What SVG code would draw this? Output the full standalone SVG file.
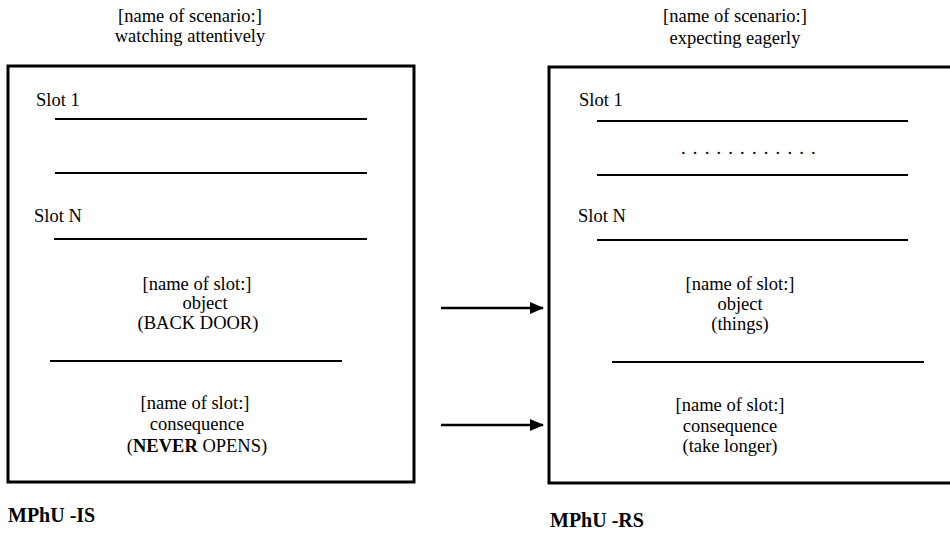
<svg xmlns="http://www.w3.org/2000/svg" width="950" height="535" viewBox="0 0 950 535">
  <style>
    text { font-family: "Liberation Serif", Tinos, "Times New Roman", Times, "Noto Serif", "DejaVu Serif", FreeSerif, serif; font-size: 18.5px; fill: #000; }
    .c { text-anchor: middle; }
    .lbl { font-weight: bold; font-size: 20px; }
    .frame { fill: none; stroke: #000; stroke-width: 3; }
    .rule { stroke: #000; stroke-width: 2; }
    .conn { stroke: #000; stroke-width: 2.5; fill: none; }
  </style>
  <defs>
    <marker id="head" viewBox="0 0 14 12" refX="13" refY="6" markerWidth="14" markerHeight="12" orient="auto" markerUnits="userSpaceOnUse">
      <path d="M0,0 L14,6 L0,12 z" fill="#000"/>
    </marker>
  </defs>
  <rect width="950" height="535" fill="#fff"/>

  <!-- scenario: watching attentively -->
  <g id="scenario-is">
    <text class="c" x="190" y="22">[name of scenario:]</text>
    <text class="c" x="190" y="42">watching attentively</text>
    <rect class="frame" x="8" y="66" width="406" height="416"/>
    <text x="36" y="106">Slot 1</text>
    <line class="rule" x1="55" y1="119" x2="367" y2="119"/>
    <line class="rule" x1="55" y1="173" x2="367" y2="173"/>
    <text x="34" y="222">Slot N</text>
    <line class="rule" x1="54" y1="239" x2="367" y2="239"/>
    <text class="c" x="197" y="290">[name of slot:]</text>
    <text class="c" x="205" y="309">object</text>
    <text class="c" x="198" y="329">(BACK DOOR)</text>
    <line class="rule" x1="50" y1="361" x2="342" y2="361"/>
    <text class="c" x="195" y="409">[name of slot:]</text>
    <text class="c" x="197" y="430">consequence</text>
    <text class="c" x="197" y="452">(<tspan font-weight="bold">NEVER</tspan> OPENS)</text>
    <text class="lbl" x="8" y="522">MPhU -IS</text>
  </g>

  <!-- scenario: expecting eagerly -->
  <g id="scenario-rs">
    <text class="c" x="735" y="22">[name of scenario:]</text>
    <text class="c" x="735" y="44">expecting eagerly</text>
    <path class="frame" d="M950,67 H549 V483 H950"/>
    <text x="579" y="106">Slot 1</text>
    <line class="rule" x1="597" y1="121" x2="908" y2="121"/>
    <text x="681" y="154" letter-spacing="7.2">............</text>
    <line class="rule" x1="597" y1="175" x2="908" y2="175"/>
    <text x="578" y="222">Slot N</text>
    <line class="rule" x1="597" y1="240" x2="908" y2="240"/>
    <text class="c" x="740" y="290">[name of slot:]</text>
    <text class="c" x="740" y="310">object</text>
    <text class="c" x="740" y="330">(things)</text>
    <line class="rule" x1="612" y1="362" x2="924" y2="362"/>
    <text class="c" x="730" y="411">[name of slot:]</text>
    <text class="c" x="730" y="432">consequence</text>
    <text class="c" x="730" y="452">(take longer)</text>
    <text class="lbl" x="550" y="527">MPhU -RS</text>
  </g>

  <!-- connectors -->
  <g id="connectors">
    <line class="conn" x1="441" y1="308" x2="543" y2="308" marker-end="url(#head)"/>
    <line class="conn" x1="441" y1="425" x2="543" y2="425" marker-end="url(#head)"/>
  </g>
</svg>
